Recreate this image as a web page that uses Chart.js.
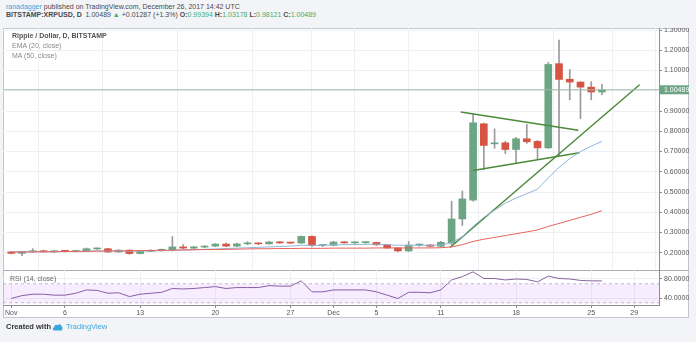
<!DOCTYPE html>
<html>
<head>
<meta charset="utf-8">
<script src="https://cdn.jsdelivr.net/npm/chart.js@4.4.0/dist/chart.umd.min.js"></script>
<style>
  html, body { margin: 0; padding: 0; }
  body { width: 696px; height: 342px; background: #f3f4f7; position: relative; overflow: hidden;
         font-family: "Liberation Sans", Arial, sans-serif; }
  .txt { position: absolute; white-space: nowrap; font-size: 7px; line-height: 8px; color: #4a4a4a; }
  .g { color: #3fae6c; }
  #frame { position: absolute; left: 3px; top: 28px; width: 686px; height: 290px; background: #fff;
           border: 1px solid #c3c7cd; box-sizing: border-box; }
  #sep { position: absolute; left: 3px; top: 270px; width: 686px; height: 1px; background: #a9adb3; }
  canvas { position: absolute; }
</style>
</head>
<body>
<div class="txt" style="left:6px; top:3px;"><span style="color:#3aa6dc">ranadagger</span> published on TradingView.com, December 26, 2017 14:42 UTC</div>
<div class="txt" style="left:6px; top:11px;"><b>BITSTAMP:XRPUSD, D</b>&nbsp; 1.00489 <span class="g">&#9650;</span> +0.01287 (+1.3%) <b>O:</b><span class="g">0.99394</span> <b>H:</b><span class="g">1.03178</span> <b>L:</b><span class="g">0.98121</span> <b>C:</b><span class="g">1.00489</span></div>

<div id="frame"></div>
<canvas id="mainChart" width="686" height="242" style="left:3px; top:28px;"></canvas>
<div id="sep"></div>
<canvas id="rsiChart" width="686" height="48" style="left:3px; top:270px;"></canvas>

<div class="txt" style="left:12px; top:32px; color:#555; font-weight:bold;">Ripple / Dollar, D, BITSTAMP</div>
<div class="txt" style="left:12px; top:42px; color:#8a8a8a;">EMA (20, close)</div>
<div class="txt" style="left:12px; top:52px; color:#8a8a8a;">MA (50, close)</div>
<div class="txt" style="left:10px; top:275px; color:#666;">RSI (14, close)</div>

<div class="txt" style="left:6px; top:323px; color:#333; font-weight:bold; font-size:7.5px;">Created with</div>
<svg style="position:absolute; left:52px; top:322px;" width="11" height="9" viewBox="0 0 11 9">
  <path d="M2.5 8.5 C0.5 8.5 0.3 5.6 2.2 5.2 C2 3 4.6 1.8 6 3.3 C6.8 1.6 9.6 2 9.6 4.4 C11 4.8 10.8 8.5 8.8 8.5 Z" fill="#3aa6dc"/>
</svg>
<div class="txt" style="left:66px; top:323px; color:#3aa6dc; font-size:7.5px;">TradingView</div>

<script>
// ============================================================
// XRP/USD daily candles, Nov 1 - Dec 26 2017 (index 0 = Nov 1)
// ============================================================

const openP = [0.204, 0.197, 0.205, 0.210, 0.205, 0.208, 0.206, 0.210, 0.219, 0.220,
               0.204, 0.213, 0.196, 0.207, 0.211, 0.216, 0.229, 0.223, 0.228, 0.233,
               0.243, 0.233, 0.244, 0.246, 0.244, 0.253, 0.249, 0.248, 0.281, 0.236,
               0.237, 0.253, 0.249, 0.250, 0.251, 0.239, 0.224, 0.209, 0.238, 0.239,
               0.232, 0.248, 0.367, 0.460, 0.837, 0.738, 0.743, 0.710, 0.763, 0.750,
               0.718, 1.134, 1.057, 1.043, 1.018, 0.99394];
const highP = [0.207, 0.207, 0.220, 0.213, 0.210, 0.211, 0.212, 0.224, 0.224, 0.222,
               0.215, 0.215, 0.210, 0.214, 0.219, 0.280, 0.240, 0.232, 0.236, 0.246,
               0.248, 0.247, 0.255, 0.249, 0.256, 0.256, 0.252, 0.283, 0.284, 0.242,
               0.257, 0.256, 0.255, 0.254, 0.253, 0.241, 0.226, 0.256, 0.244, 0.241,
               0.256, 0.455, 0.505, 0.885, 0.840, 0.812, 0.750, 0.770, 0.834, 0.755,
               1.140, 1.250, 1.105, 1.045, 1.045, 1.03178];
const lowP  = [0.195, 0.186, 0.202, 0.203, 0.201, 0.204, 0.204, 0.208, 0.216, 0.201,
               0.202, 0.193, 0.194, 0.205, 0.209, 0.209, 0.220, 0.219, 0.225, 0.230,
               0.230, 0.230, 0.240, 0.240, 0.242, 0.246, 0.245, 0.246, 0.230, 0.230,
               0.234, 0.247, 0.246, 0.246, 0.236, 0.222, 0.205, 0.206, 0.232, 0.229,
               0.229, 0.240, 0.335, 0.455, 0.610, 0.716, 0.690, 0.645, 0.740, 0.660,
               0.715, 0.680, 0.955, 0.862, 0.955, 0.98121];
const closeP = [0.197, 0.205, 0.209, 0.205, 0.208, 0.207, 0.210, 0.220, 0.221, 0.204,
                0.213, 0.196, 0.207, 0.212, 0.217, 0.229, 0.223, 0.229, 0.233, 0.243,
                0.233, 0.244, 0.246, 0.244, 0.253, 0.249, 0.248, 0.281, 0.236, 0.237,
                0.253, 0.249, 0.250, 0.251, 0.239, 0.224, 0.209, 0.238, 0.239, 0.232,
                0.252, 0.367, 0.466, 0.842, 0.730, 0.743, 0.710, 0.763, 0.748, 0.718,
                1.130, 1.056, 1.043, 1.018, 0.994, 1.00489];

const ema20 = [0.205, 0.205, 0.205, 0.205, 0.206, 0.206, 0.206, 0.208, 0.209, 0.208,
               0.209, 0.208, 0.208, 0.209, 0.210, 0.212, 0.213, 0.215, 0.217, 0.219,
               0.221, 0.223, 0.225, 0.227, 0.229, 0.231, 0.233, 0.237, 0.237, 0.237,
               0.239, 0.240, 0.241, 0.242, 0.242, 0.240, 0.237, 0.237, 0.237, 0.237,
               0.238, 0.250, 0.280, 0.330, 0.375, 0.410, 0.445, 0.470, 0.492, 0.514,
               0.570, 0.622, 0.665, 0.700, 0.727, 0.750];
const ma50 = [0.203, 0.204, 0.204, 0.205, 0.205, 0.206, 0.207, 0.207, 0.208, 0.209,
              0.209, 0.210, 0.211, 0.212, 0.212, 0.213, 0.214, 0.215, 0.216, 0.216,
              0.217, 0.218, 0.219, 0.220, 0.220, 0.221, 0.221, 0.222, 0.222, 0.222,
              0.223, 0.223, 0.223, 0.223, 0.224, 0.224, 0.224, 0.224, 0.224, 0.224,
              0.225, 0.229, 0.240, 0.256, 0.267, 0.276, 0.285, 0.294, 0.303, 0.313,
              0.330, 0.345, 0.360, 0.375, 0.390, 0.408];
const rsi14 = [39, 45, 48, 48, 46, 46, 50, 57, 56, 50,
               51, 43, 48, 50, 52, 60, 59, 60, 62, 64,
               60, 62, 62, 62, 66, 65, 65, 76, 53, 53,
               57, 57, 57, 57, 53, 46, 39, 52, 52, 51,
               57, 78, 85, 95, 81, 81, 78, 80, 79, 74,
               86, 81, 80, 77, 76, 76];

// drawn trend lines: [day, price]
const trendUp  = [[40.85, 0.226], [58.5, 1.03]];
const triUpper = [[41.85, 0.895], [52.8, 0.805]];
const triLower = [[43.0, 0.606], [52.9, 0.694]];

const priceTicks = [0.2, 0.3, 0.4, 0.5, 0.6, 0.7, 0.8, 0.9, 1.0, 1.1, 1.2, 1.3];
const rsiTicks = [40, 80];
const rsiBand = [30, 70];
const dayTicks  = [0, 5, 12, 19, 26, 30, 34, 40, 47, 54, 58];
const dayLabels = ["Nov", "6", "13", "20", "27", "Dec", "5", "11", "18", "25", "29"];

const X_MIN = -0.77;
const X_MAX = 60.31;
const FONT = "'Liberation Sans', Arial, sans-serif";
const UP = "#6ba583";
const DOWN = "#d75442";
const AXIS = "#8a8e94";
const GRID = "#eef0f3";

const days = closeP.map((_, i) => i);
const lastClose = closeP[closeP.length - 1];

const priceTag = {
  id: "priceTag",
  afterDraw(chart) {
    const { ctx, chartArea } = chart;
    const y = chart.scales.y.getPixelForValue(lastClose);
    ctx.save();
    ctx.fillStyle = UP;
    ctx.fillRect(chartArea.right, y - 4.5, chart.width - chartArea.right, 9);
    ctx.fillStyle = "#fff";
    ctx.font = "7px " + FONT;
    ctx.textBaseline = "middle";
    ctx.fillText(lastClose.toFixed(5), chartArea.right + 5, y + 0.5);
    ctx.restore();
  }
};

// keep the plot area at the full canvas size (no room reserved for edge labels)
function noPad(s) {
  s.paddingTop = 0; s.paddingBottom = 0; s.paddingLeft = 0; s.paddingRight = 0;
}

function xScale(showLabels) {
  return {
    type: "linear", min: X_MIN, max: X_MAX, offset: false,
    afterBuildTicks: s => { s.ticks = dayTicks.map(v => ({ value: v })); },
    afterFit: s => { s.height = showLabels ? 13 : 0; noPad(s); },
    ticks: {
      display: showLabels, autoSkip: false, maxRotation: 0, padding: 1,
      font: { size: 7, family: FONT }, color: "#555",
      callback: v => dayLabels[dayTicks.indexOf(v)]
    },
    grid: { color: GRID, drawTicks: showLabels, tickLength: 3, tickColor: AXIS },
    border: { display: showLabels, color: AXIS }
  };
}

function yScale(min, max, ticks, digits) {
  return {
    position: "right", min, max,
    afterBuildTicks: s => { s.ticks = ticks.map(v => ({ value: v })); },
    afterFit: s => { s.width = 30; noPad(s); },
    ticks: { font: { size: 7, family: FONT }, color: "#555", padding: 2, callback: v => v.toFixed(digits) },
    grid: { color: GRID, tickLength: 3, tickColor: AXIS },
    border: { color: AXIS }
  };
}

function lineSet(points, color, width) {
  return {
    type: "line", data: points.map(p => ({ x: p[0], y: p[1] })),
    borderColor: color, borderWidth: width, pointRadius: 0, fill: false, order: 1
  };
}

new Chart(document.getElementById("mainChart"), {
  type: "line",
  data: {
    datasets: [
      {
        type: "bar", data: days.map(i => ({ x: i, y: [lowP[i], highP[i]] })),
        backgroundColor: "#9a9a9a", barThickness: 1, grouped: false, order: 10
      },
      {
        type: "bar", data: days.map(i => ({ x: i, y: [openP[i], closeP[i]] })),
        backgroundColor: days.map(i => closeP[i] >= openP[i] ? UP : DOWN),
        barThickness: 7, minBarLength: 1, grouped: false, order: 9
      },
      lineSet([[X_MIN, lastClose], [X_MAX, lastClose]], "#a3bcaa", 1),
      lineSet(days.map(i => [i, ma50[i]]), "#e8625d", 1),
      lineSet(days.map(i => [i, ema20[i]]), "#8fb6dc", 1),
      lineSet(trendUp, "#4d8a3a", 1.5),
      lineSet(triUpper, "#4d8a3a", 1.5),
      lineSet(triLower, "#4d8a3a", 1.5)
    ]
  },
  options: {
    responsive: false, animation: false, devicePixelRatio: 1,
    layout: { padding: 0 },
    plugins: { legend: { display: false }, tooltip: { enabled: false } },
    scales: {
      x: xScale(false),
      y: yScale(0.115, 1.31, priceTicks, 5)
    }
  },
  plugins: [priceTag]
});

new Chart(document.getElementById("rsiChart"), {
  type: "line",
  data: {
    datasets: [
      {
        data: [{ x: X_MIN, y: rsiBand[1] }, { x: X_MAX, y: rsiBand[1] }],
        borderColor: "#c9b6d6", borderWidth: 1, borderDash: [3, 3], pointRadius: 0,
        fill: "+1", backgroundColor: "rgba(153, 21, 255, 0.08)"
      },
      {
        data: [{ x: X_MIN, y: rsiBand[0] }, { x: X_MAX, y: rsiBand[0] }],
        borderColor: "#c9b6d6", borderWidth: 1, borderDash: [3, 3], pointRadius: 0, fill: false
      },
      {
        data: days.map(i => ({ x: i, y: rsi14[i] })),
        borderColor: "#8a629f", borderWidth: 1, pointRadius: 0, fill: false
      }
    ]
  },
  options: {
    responsive: false, animation: false, devicePixelRatio: 1,
    layout: { padding: 0 },
    plugins: { legend: { display: false }, tooltip: { enabled: false } },
    scales: {
      x: xScale(true),
      y: yScale(25.3, 98.9, rsiTicks, 4)
    }
  }
});
</script>
</body>
</html>
